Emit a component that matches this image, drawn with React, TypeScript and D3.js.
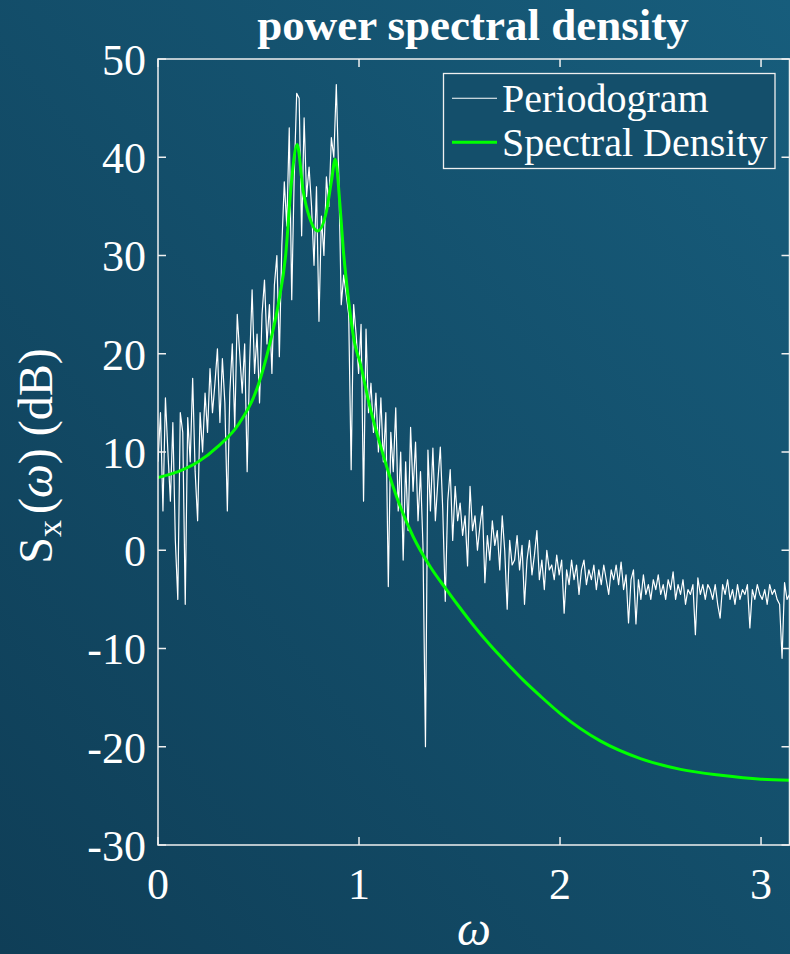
import React from 'react';
import * as d3 from 'd3';

// Periodogram (dB) on an even grid from 0 to pi
const PERIODOGRAM_DB = [
  9, 14, 4, 15.5, 10, 5, 13, 1, -5, 14, 12, -5.5, 13.5, 9, 17.5, 8,
  3, 14, 10, 16, 12, 18.5, 14, 17, 20.5, 13, 19.5, 15, 4, 16, 21, 12.5,
  24, 20, 16, 21, 8, 19, 26.5, 18, 22, 15, 24, 27.5, 21, 25, 18, 27,
  30, 19.7, 31, 37.5, 33, 43, 25.5, 38, 46.5, 46, 32, 44, 36, 39, 35, 29,
  37, 23.3, 34, 30, 38, 35, 42, 40, 47.4, 38, 25, 28, 26, 24, 8.2, 25,
  22, 18, 23, 5, 22.5, 14, 17, 12, 16, 10, 15.5, 9, 14, -3.7, 12, 8,
  14.5, 4, 10, -1, 9, 2, 12.5, 6, 11, 3, 8, 0.4, -20, 10.2, 4, 10.4,
  3, 7, 10.5, 4, -5.2, 5, 8.2, 1, 6.5, 3, 4.8, 1.5, 3.5, -1.6, 6.5, 2,
  3.5, 0, 2.5, 4.5, -3.3, 1.5, -1, 3, 0.5, 2, -2, 3.5, 0, -6, 1, -1.5,
  -1, 1.5, -2, 0.5, -5.5, -1, 1, -2.5, -0.5, 2, -3, -1, -4, 0, -2, -1.5,
  -3, -0.5, -2.5, -1, -6.4, -2, -3.5, -1, -3, -1.5, -4.5, -2, -1, -3.5, -2, -3,
  -1.5, -4, -2, -3.5, -1.5, -3, -4.5, -2, -3, -1.5, -3.5, -1.2, -4, -2.5, -7.4, -3,
  -2, -7.5, -3, -5, -2.5, -4.5, -3.5, -5, -3, -4, -2.5, -4.5, -3.5, -5, -3, -4,
  -2.2, -5, -3.5, -4.5, -3, -5.5, -4, -4.5, -3.5, -8.6, -2.8, -4.5, -3.5, -5, -3.5, -4,
  -5, -3.5, -5.5, -6.9, -3.5, -4.5, -3, -5, -4, -5.5, -3.5, -5, -4, -4.5, -3.5, -7.9,
  -4, -5, -3.5, -4.5, -5, -4, -5.5, -3.5, -4.5, -4, -5, -5.5, -11, -3.3, -5, -4.5,
];

// Spectral density read at these frequencies
const SD_OMEGA = [
  0, 0.1, 0.2, 0.3, 0.4, 0.5, 0.55, 0.6, 0.635, 0.664, 0.692, 0.722, 0.755,
  0.795, 0.838, 0.863, 0.882, 0.905, 0.921, 0.946, 0.979, 1.004, 1.054, 1.103,
  1.186, 1.269, 1.352, 1.435, 1.5, 1.56, 1.65, 1.75, 1.816, 1.9, 2.0, 2.2, 2.4,
  2.6, 2.8, 3.0, Math.PI,
];
const SD_DB = [
  7.4, 8.0, 9.0, 10.6, 12.8, 16.9, 20.5, 25.2, 30.0, 37.5, 41.3, 36.6, 33.8,
  32.5, 34.5, 37.6, 39.8, 35.2, 30.8, 25.8, 21.0, 19.2, 14.6, 10.9,
  5.5, 1.4, -1.6, -4.0, -5.8, -7.4, -9.6, -11.8, -13.2, -14.8, -16.6, -19.4, -21.2,
  -22.3, -22.9, -23.3, -23.4,
];

const X_TICKS = [0, 1, 2, 3];
const Y_TICKS = [-30, -20, -10, 0, 10, 20, 30, 40, 50];

const W = 790;
const H = 954;
const plot = { left: 158, top: 59, right: 789.5, bottom: 845 };
const FONT = "'Liberation Serif', 'Times New Roman', serif";
const TICK = 8;

export default function App() {
  const x = d3.scaleLinear().domain([0, Math.PI]).range([plot.left, plot.right]);
  const y = d3.scaleLinear().domain([-30, 50]).range([plot.bottom, plot.top]);

  const n = PERIODOGRAM_DB.length;
  const pgLine = d3
    .line<number>()
    .x((_, i) => x((i * Math.PI) / (n - 1)))
    .y((d) => y(d));

  const sdLine = d3
    .line<number>()
    .x((_, i) => x(SD_OMEGA[i]))
    .y((d) => y(d))
    .curve(d3.curveMonotoneX);

  return (
    <div style={{ position: 'absolute', left: 0, top: 0 }}>
      <svg width={W} height={H} style={{ display: 'block' }} fontFamily={FONT}>
        <defs>
          <linearGradient id="bg" x1="0" y1="1" x2="1" y2="0">
            <stop offset="0" stopColor="#0f3e57" />
            <stop offset="1" stopColor="#175d7c" />
          </linearGradient>
          <clipPath id="plotClip">
            <rect x={plot.left} y={plot.top} width={plot.right - plot.left} height={plot.bottom - plot.top} />
          </clipPath>
        </defs>
        <rect width={W} height={H} fill="url(#bg)" />

        {/* data */}
        <g clipPath="url(#plotClip)">
          <path d={pgLine(PERIODOGRAM_DB) || ''} fill="none" stroke="#ffffff" strokeWidth={1.2} strokeLinejoin="round" />
          <path d={sdLine(SD_DB) || ''} fill="none" stroke="#00ff00" strokeWidth={3} />
        </g>

        {/* axes box */}
        <rect
          x={plot.left}
          y={plot.top}
          width={plot.right - plot.left}
          height={plot.bottom - plot.top}
          fill="none"
          stroke="#f0f0f0"
          strokeWidth={1.5}
        />
        {X_TICKS.map((t) => (
          <g key={'x' + t} stroke="#f0f0f0" strokeWidth={1.5}>
            <line x1={x(t)} x2={x(t)} y1={plot.bottom} y2={plot.bottom - TICK} />
            <line x1={x(t)} x2={x(t)} y1={plot.top} y2={plot.top + TICK} />
          </g>
        ))}
        {Y_TICKS.map((t) => (
          <g key={'y' + t} stroke="#f0f0f0" strokeWidth={1.5}>
            <line x1={plot.left} x2={plot.left + TICK} y1={y(t)} y2={y(t)} />
            <line x1={plot.right} x2={plot.right - TICK} y1={y(t)} y2={y(t)} />
          </g>
        ))}

        {/* tick labels */}
        <g fill="#ffffff" fontSize={44}>
          {X_TICKS.map((t) => (
            <text key={'xl' + t} x={x(t)} y={899} textAnchor="middle">
              {String(t)}
            </text>
          ))}
          {Y_TICKS.map((t) => (
            <text key={'yl' + t} x={146} y={y(t)} dy="0.36em" textAnchor="end">
              {String(t)}
            </text>
          ))}
        </g>

        {/* title and axis labels */}
        <text x={473} y={40} textAnchor="middle" fill="#ffffff" fontSize={45} fontWeight="bold">
          power spectral density
        </text>
        <text x={474} y={945} textAnchor="middle" fill="#ffffff" fontSize={48} fontStyle="italic">
          ω
        </text>
        <text transform="translate(52,456) rotate(-90)" textAnchor="middle" fill="#ffffff" fontSize={48}>
          S
          <tspan dy={9} fontSize={34}>x</tspan>
          <tspan dy={-9} dx={6}>(</tspan>
          <tspan fontStyle="italic">ω</tspan>
          <tspan>) (dB)</tspan>
        </text>

        {/* legend */}
        <g>
          <rect x={443.5} y={73.5} width={331.5} height={95} fill="#144f6b" stroke="#f0f0f0" strokeWidth={1.3} />
          <line x1={452} x2={497} y1={98.3} y2={98.3} stroke="#ffffff" strokeWidth={1.1} />
          <line x1={452} x2={497} y1={142.3} y2={142.3} stroke="#00ff00" strokeWidth={3} />
          <text x={502} y={112} fill="#ffffff" fontSize={40}>Periodogram</text>
          <text x={502} y={156} fill="#ffffff" fontSize={40}>Spectral Density</text>
        </g>
      </svg>
    </div>
  );
}
